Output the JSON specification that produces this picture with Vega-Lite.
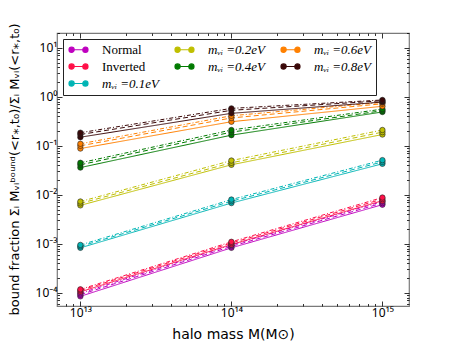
{
  "$schema": "https://vega.github.io/schema/vega-lite/v6.json",
  "width": 352,
  "height": 273,
  "autosize": {"type": "none"},
  "padding": {"left": 57, "top": 33, "right": 46, "bottom": 35},
  "background": "white",
  "config": {
    "view": {"stroke": "#7a7a7a", "strokeWidth": 1.2},
    "axis": {"labelFont": "Noto Sans", "titleFont": "DejaVu Sans", "labelColor": "#000", "titleColor": "#000", "domain": false, "grid": false, "tickColor": "#000", "tickWidth": 0.8}
  },
  "data": {"values": [
    {"m": 1e13, "s": "Normal", "k": "a", "f": 8.5e-5}, {"m": 1e14, "s": "Normal", "k": "a", "f": 8.3e-4}, {"m": 1e15, "s": "Normal", "k": "a", "f": 6.3e-3},
    {"m": 1e13, "s": "Normal", "k": "b", "f": 9.2e-5}, {"m": 1e14, "s": "Normal", "k": "b", "f": 8.9e-4}, {"m": 1e15, "s": "Normal", "k": "b", "f": 6.8e-3},
    {"m": 1e13, "s": "Normal", "k": "c", "f": 9.8e-5}, {"m": 1e14, "s": "Normal", "k": "c", "f": 9.5e-4}, {"m": 1e15, "s": "Normal", "k": "c", "f": 7.3e-3},
    {"m": 1e13, "s": "Inverted", "k": "a", "f": 1.05e-4}, {"m": 1e14, "s": "Inverted", "k": "a", "f": 9.7e-4}, {"m": 1e15, "s": "Inverted", "k": "a", "f": 7.6e-3},
    {"m": 1e13, "s": "Inverted", "k": "b", "f": 1.12e-4}, {"m": 1e14, "s": "Inverted", "k": "b", "f": 1.04e-3}, {"m": 1e15, "s": "Inverted", "k": "b", "f": 8.2e-3},
    {"m": 1e13, "s": "Inverted", "k": "c", "f": 1.18e-4}, {"m": 1e14, "s": "Inverted", "k": "c", "f": 1.1e-3}, {"m": 1e15, "s": "Inverted", "k": "c", "f": 8.8e-3},
    {"m": 1e13, "s": "mᵥᵢ =0.1eV", "k": "a", "f": 8.3e-4}, {"m": 1e14, "s": "mᵥᵢ =0.1eV", "k": "a", "f": 6.8e-3}, {"m": 1e15, "s": "mᵥᵢ =0.1eV", "k": "a", "f": 4.3e-2},
    {"m": 1e13, "s": "mᵥᵢ =0.1eV", "k": "b", "f": 8.9e-4}, {"m": 1e14, "s": "mᵥᵢ =0.1eV", "k": "b", "f": 7.4e-3}, {"m": 1e15, "s": "mᵥᵢ =0.1eV", "k": "b", "f": 4.7e-2},
    {"m": 1e13, "s": "mᵥᵢ =0.1eV", "k": "c", "f": 9.5e-4}, {"m": 1e14, "s": "mᵥᵢ =0.1eV", "k": "c", "f": 8.0e-3}, {"m": 1e15, "s": "mᵥᵢ =0.1eV", "k": "c", "f": 5.1e-2},
    {"m": 1e13, "s": "mᵥᵢ =0.2eV", "k": "a", "f": 6.1e-3}, {"m": 1e14, "s": "mᵥᵢ =0.2eV", "k": "a", "f": 4.1e-2}, {"m": 1e15, "s": "mᵥᵢ =0.2eV", "k": "a", "f": 0.17},
    {"m": 1e13, "s": "mᵥᵢ =0.2eV", "k": "b", "f": 6.7e-3}, {"m": 1e14, "s": "mᵥᵢ =0.2eV", "k": "b", "f": 4.5e-2}, {"m": 1e15, "s": "mᵥᵢ =0.2eV", "k": "b", "f": 0.19},
    {"m": 1e13, "s": "mᵥᵢ =0.2eV", "k": "c", "f": 7.3e-3}, {"m": 1e14, "s": "mᵥᵢ =0.2eV", "k": "c", "f": 5.0e-2}, {"m": 1e15, "s": "mᵥᵢ =0.2eV", "k": "c", "f": 0.21},
    {"m": 1e13, "s": "mᵥᵢ =0.4eV", "k": "a", "f": 0.036}, {"m": 1e14, "s": "mᵥᵢ =0.4eV", "k": "a", "f": 0.165}, {"m": 1e15, "s": "mᵥᵢ =0.4eV", "k": "a", "f": 0.49},
    {"m": 1e13, "s": "mᵥᵢ =0.4eV", "k": "b", "f": 0.041}, {"m": 1e14, "s": "mᵥᵢ =0.4eV", "k": "b", "f": 0.19}, {"m": 1e15, "s": "mᵥᵢ =0.4eV", "k": "b", "f": 0.52},
    {"m": 1e13, "s": "mᵥᵢ =0.4eV", "k": "c", "f": 0.045}, {"m": 1e14, "s": "mᵥᵢ =0.4eV", "k": "c", "f": 0.21}, {"m": 1e15, "s": "mᵥᵢ =0.4eV", "k": "c", "f": 0.56},
    {"m": 1e13, "s": "mᵥᵢ =0.6eV", "k": "a", "f": 0.088}, {"m": 1e14, "s": "mᵥᵢ =0.6eV", "k": "a", "f": 0.31}, {"m": 1e15, "s": "mᵥᵢ =0.6eV", "k": "a", "f": 0.64},
    {"m": 1e13, "s": "mᵥᵢ =0.6eV", "k": "b", "f": 0.1}, {"m": 1e14, "s": "mᵥᵢ =0.6eV", "k": "b", "f": 0.37}, {"m": 1e15, "s": "mᵥᵢ =0.6eV", "k": "b", "f": 0.72},
    {"m": 1e13, "s": "mᵥᵢ =0.6eV", "k": "c", "f": 0.11}, {"m": 1e14, "s": "mᵥᵢ =0.6eV", "k": "c", "f": 0.41}, {"m": 1e15, "s": "mᵥᵢ =0.6eV", "k": "c", "f": 0.77},
    {"m": 1e13, "s": "mᵥᵢ =0.8eV", "k": "a", "f": 0.15}, {"m": 1e14, "s": "mᵥᵢ =0.8eV", "k": "a", "f": 0.46}, {"m": 1e15, "s": "mᵥᵢ =0.8eV", "k": "a", "f": 0.78},
    {"m": 1e13, "s": "mᵥᵢ =0.8eV", "k": "b", "f": 0.17}, {"m": 1e14, "s": "mᵥᵢ =0.8eV", "k": "b", "f": 0.53}, {"m": 1e15, "s": "mᵥᵢ =0.8eV", "k": "b", "f": 0.83},
    {"m": 1e13, "s": "mᵥᵢ =0.8eV", "k": "c", "f": 0.185}, {"m": 1e14, "s": "mᵥᵢ =0.8eV", "k": "c", "f": 0.58}, {"m": 1e15, "s": "mᵥᵢ =0.8eV", "k": "c", "f": 0.86}
  ]},
  "resolve": {"axis": {"x": "independent", "y": "independent"}},
  "layer": [
    {
      "mark": {"type": "line", "strokeWidth": 1, "clip": true},
      "encoding": {
        "x": {"field": "m", "type": "quantitative",
          "scale": {"type": "log", "domain": [7e12, 1.5e15], "nice": false},
          "axis": {"orient": "bottom", "title": "halo mass M(M⊙)", "titleFontSize": 14, "titleFontWeight": "normal", "titlePadding": 7,
            "values": [8e12, 9e12, 1e13, 2e13, 3e13, 4e13, 5e13, 6e13, 7e13, 8e13, 9e13, 1e14, 2e14, 3e14, 4e14, 5e14, 6e14, 7e14, 8e14, 9e14, 1e15],
            "labelExpr": "datum.value == 1e13 ? '10¹³' : datum.value == 1e14 ? '10¹⁴' : datum.value == 1e15 ? '10¹⁵' : ''",
            "labelFontSize": 12, "labelPadding": 6, "labelFlush": false, "labelOverlap": false,
            "tickSize": {"condition": {"test": "datum.value == 1e13 || datum.value == 1e14 || datum.value == 1e15", "value": -5}, "value": -2.5}}},
        "y": {"field": "f", "type": "quantitative",
          "scale": {"type": "log", "domain": [5.4e-5, 20], "nice": false},
          "axis": {"orient": "left", "title": "bound fraction Σᵢ Mᵥᵢᵇᵒᵘⁿᵈ(<r⁎,t₀)/Σᵢ Mᵥᵢ(<r⁎,t₀)", "titleFontSize": 13, "titleFontWeight": "normal",
            "titleX": -43, "titleY": 136, "titleAlign": "center", "titleBaseline": "middle", "titleAngle": -90,
            "values": [6e-5, 7e-5, 8e-5, 9e-5, 1e-4, 2e-4, 3e-4, 4e-4, 5e-4, 6e-4, 7e-4, 8e-4, 9e-4, 1e-3, 2e-3, 3e-3, 4e-3, 5e-3, 6e-3, 7e-3, 8e-3, 9e-3, 1e-2, 2e-2, 3e-2, 4e-2, 5e-2, 6e-2, 7e-2, 8e-2, 9e-2, 0.1, 0.2, 0.3, 0.4, 0.5, 0.6, 0.7, 0.8, 0.9, 1, 2, 3, 4, 5, 6, 7, 8, 9, 10, 20],
            "labelExpr": "datum.value == 1e-4 ? '10⁻⁴' : datum.value == 1e-3 ? '10⁻³' : datum.value == 1e-2 ? '10⁻²' : datum.value == 0.1 ? '10⁻¹' : datum.value == 1 ? '10⁰' : datum.value == 10 ? '10¹' : ''",
            "labelFontSize": 12, "labelPadding": 5, "labelFlush": false, "labelOverlap": false,
            "tickSize": {"condition": {"test": "datum.value == 1e-4 || datum.value == 1e-3 || datum.value == 1e-2 || datum.value == 0.1 || datum.value == 1 || datum.value == 10", "value": -5}, "value": -2.5}}},
        "color": {"field": "s", "type": "nominal",
          "scale": {"domain": ["Normal", "mᵥᵢ =0.2eV", "mᵥᵢ =0.6eV", "Inverted", "mᵥᵢ =0.4eV", "mᵥᵢ =0.8eV", "mᵥᵢ =0.1eV"],
            "range": ["#bf00bf", "#bfbf00", "#ff8000", "#ff1048", "#007a00", "#3a0808", "#00b5b5"]},
          "legend": {"title": null, "orient": "none", "legendX": 6, "legendY": 6, "columns": 3, "direction": "horizontal",
            "symbolType": "M-1.9,0L1.9,0M-1.9,0a0.52,0.52 0 1,0 1.04,0a0.52,0.52 0 1,0 -1.04,0ZM0.86,0a0.52,0.52 0 1,0 1.04,0a0.52,0.52 0 1,0 -1.04,0Z",
            "symbolSize": 100, "symbolOffset": 5, "symbolStrokeWidth": 1.2, "labelFont": "Liberation Serif", "labelFontSize": 13, "labelColor": "#000",
            "labelOffset": 17, "columnPadding": 12, "rowPadding": 3, "padding": 4, "strokeColor": "#222", "fillColor": "white",
            "labelLimit": 200,
            "encode": {"symbols": {"update": {"fill": {"scale": "color", "field": "value"}, "stroke": {"scale": "color", "field": "value"}, "fillOpacity": {"value": 1}}},
              "labels": {"update": {"fontStyle": {"signal": "indexof(datum.label, 'm') == 0 ? 'italic' : 'normal'"}}}}}},
        "strokeDash": {"field": "k", "type": "nominal", "scale": {"domain": ["a", "b", "c"], "range": [[1, 0], [5, 3], [4, 2, 1, 2]]}, "legend": null},
        "detail": {"field": "k"}
      }
    },
    {
      "mark": {"type": "point", "filled": true, "size": 30, "stroke": "#222", "strokeWidth": 0.6, "opacity": 1},
      "encoding": {
        "x": {"field": "m", "type": "quantitative",
          "axis": {"orient": "top", "title": null, "labels": false,
            "values": [8e12, 9e12, 1e13, 2e13, 3e13, 4e13, 5e13, 6e13, 7e13, 8e13, 9e13, 1e14, 2e14, 3e14, 4e14, 5e14, 6e14, 7e14, 8e14, 9e14, 1e15],
            "tickSize": {"condition": {"test": "datum.value == 1e13 || datum.value == 1e14 || datum.value == 1e15", "value": -5}, "value": -2.5}}},
        "y": {"field": "f", "type": "quantitative",
          "axis": {"orient": "right", "title": null, "labels": false,
            "values": [6e-5, 7e-5, 8e-5, 9e-5, 1e-4, 2e-4, 3e-4, 4e-4, 5e-4, 6e-4, 7e-4, 8e-4, 9e-4, 1e-3, 2e-3, 3e-3, 4e-3, 5e-3, 6e-3, 7e-3, 8e-3, 9e-3, 1e-2, 2e-2, 3e-2, 4e-2, 5e-2, 6e-2, 7e-2, 8e-2, 9e-2, 0.1, 0.2, 0.3, 0.4, 0.5, 0.6, 0.7, 0.8, 0.9, 1, 2, 3, 4, 5, 6, 7, 8, 9, 10, 20],
            "tickSize": {"condition": {"test": "datum.value == 1e-4 || datum.value == 1e-3 || datum.value == 1e-2 || datum.value == 0.1 || datum.value == 1 || datum.value == 10", "value": -5}, "value": -2.5}}},
        "color": {"field": "s", "type": "nominal"}
      }
    }
  ]
}
